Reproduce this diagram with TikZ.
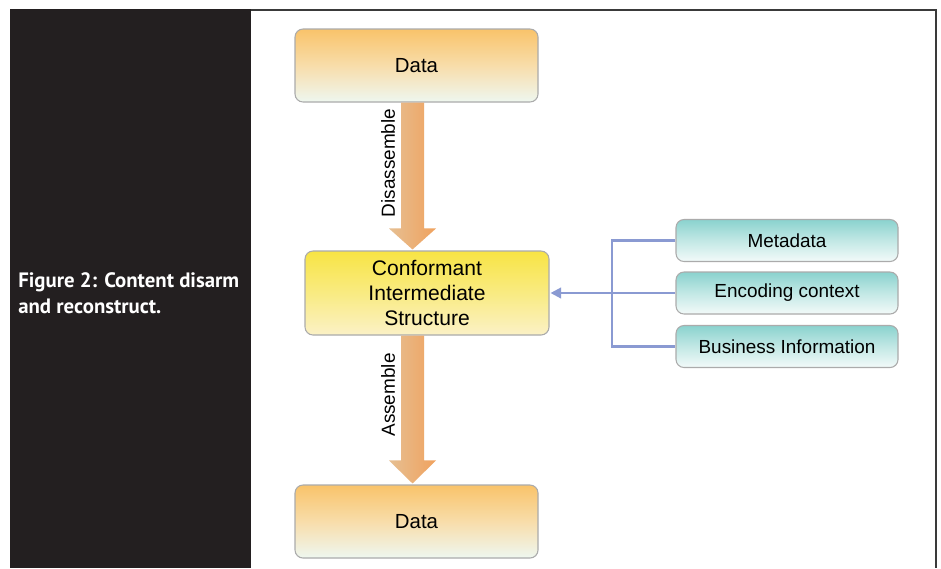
\documentclass[tikz,border=0pt]{standalone}
\usepackage{fontspec}
\setmainfont{Liberation Sans}
\newfontfamily\capfont{PT Sans}
\usetikzlibrary{arrows.meta,calc}
\definecolor{panel}{HTML}{231F20}
\definecolor{framecol}{HTML}{3A3A3A}
\definecolor{boxline}{HTML}{ABABAB}
\definecolor{orangetop}{HTML}{F9C36A}
\definecolor{orangemid}{HTML}{F8DDAA}
\definecolor{orangebot}{HTML}{EEF7F0}
\definecolor{yeltop}{HTML}{F8E444}
\definecolor{yelmid}{HTML}{F9EB82}
\definecolor{yelbot}{HTML}{FBF1C6}
\definecolor{tealtop}{HTML}{8AD2CE}
\definecolor{tealmid}{HTML}{C2E8E5}
\definecolor{tealbot}{HTML}{F3FAF9}
\definecolor{arrl}{HTML}{E6BF92}
\definecolor{arrr}{HTML}{F0A25E}
\definecolor{conn}{HTML}{8A9AD2}
\begin{document}
\begin{tikzpicture}[x=0.75pt,y=-0.75pt,
  box/.style={draw=boxline, line width=0.8pt, rounded corners=6pt, align=center,
    inner sep=0pt, text=black},
  databox/.style={box, top color=orangetop, bottom color=orangebot, middle color=orangemid,
    minimum width=182.25pt, minimum height=54.75pt, font=\fontsize{15.3}{19}\selectfont},
  cisbox/.style={box, top color=yeltop, bottom color=yelbot, middle color=yelmid,
    minimum width=183pt, minimum height=63pt, font=\fontsize{15.8}{19.1}\selectfont},
  tealbox/.style={box, top color=tealtop, bottom color=tealbot, middle color=tealmid,
    minimum width=166.5pt, minimum height=31.5pt, font=\fontsize{14.2}{17}\selectfont},
  biglabel/.style={rotate=90, font=\fontsize{14.2}{17}\selectfont, inner sep=0pt},
  connline/.style={draw=conn, line width=1.7pt},
  captext/.style={font=\capfont\bfseries\fontsize{15.6}{19.5}\selectfont, text=white,
    align=left, inner sep=0pt, anchor=north west}
]
\useasboundingbox (0,0) rectangle (941,568);
\fill[white] (0,0) rectangle (941,568);
% side panel and frame
\fill[panel] (10,9) rectangle (251,568);
\draw[framecol, line width=1.2pt] (251,10) -- (936,10) -- (936,568);
\node[captext] (cap) at (18,272) {Figure 2: Content disarm\\and reconstruct.};

% boxes
\node[databox] (data1) at (416.5,65.5) {Data};
\node[cisbox] (cis) at (427,293) {Conformant\\Intermediate\\Structure};
\node[databox] (data2) at (416.5,521.5) {Data};
\node[tealbox] (meta) at (787,240.5) {Metadata};
\node[tealbox] (enc) at (787,293) {Encoding context};
\node[tealbox] (bus) at (787,346.5) {Business Information};

% big arrows
\coordinate (a1s) at ($(data1.south)+(-3pt,0)$);
\coordinate (a1e) at (a1s |- cis.north);
\shade[left color=arrl, right color=arrr]
  ($(a1s)+(-11.5,0)$) -- ($(a1s)+(11.5,0)$) -- ($(a1e)+(11.5,-22)$) -- ($(a1e)+(23.5,-22)$)
  -- ($(a1e)+(0,-1)$) -- ($(a1e)+(-23.5,-22)$) -- ($(a1e)+(-11.5,-22)$) -- cycle;
\node[biglabel] (l1) at (388,163) {Disassemble};

\coordinate (a2s) at (a1s |- cis.south);
\coordinate (a2e) at (a1s |- data2.north);
\shade[left color=arrl, right color=arrr]
  ($(a2s)+(-11.5,0)$) -- ($(a2s)+(11.5,0)$) -- ($(a2e)+(11.5,-24)$) -- ($(a2e)+(23.5,-24)$)
  -- ($(a2e)+(0,-1)$) -- ($(a2e)+(-23.5,-24)$) -- ($(a2e)+(-11.5,-24)$) -- cycle;
\node[biglabel] (l2) at (388,395) {Assemble};

% connectors
\coordinate (bar) at (612,0);
\draw[connline] (meta.west) -- (meta.west -| bar) -- (bus.west -| bar) -- (bus.west);
\draw[connline, -{Triangle[length=8pt,width=8pt]}] (enc.west) -- ($(cis.east)+(1,0)$);
\end{tikzpicture}
\end{document}
